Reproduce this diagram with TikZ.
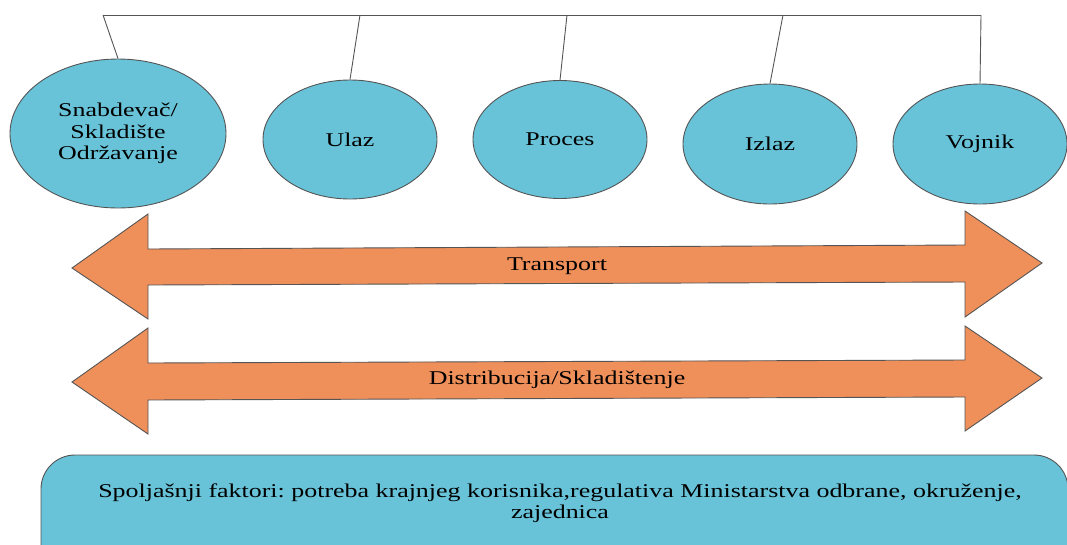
\documentclass[tikz,border=0pt]{standalone}
\usepackage{fontspec}
\setmainfont{Liberation Serif}[FakeStretch=1.33]
\usetikzlibrary{shapes.geometric}
\frenchspacing
\definecolor{ellblue}{HTML}{68C3D9}
\definecolor{arroworange}{HTML}{EF8F5A}
\definecolor{edgegray}{HTML}{555555}
\tikzset{
  oval/.style={ellipse, draw=edgegray, line width=0.9pt, fill=ellblue, inner sep=0pt, align=center,
    font=\fontsize{19.5}{21.5}\selectfont},
  link/.style={draw=edgegray, line width=0.9pt},
  bigarrow/.style={draw=edgegray, line width=0.9pt, fill=arroworange},
  lbl/.style={font=\fontsize{19.5}{21.5}\selectfont, inner sep=0pt}
}
\begin{document}
\begin{tikzpicture}[x=1pt,y=-1pt]
\useasboundingbox (0,0) rectangle (1067,544);
\clip (0,0) rectangle (1067,544);
% ellipses
\node[oval, minimum width=216pt, minimum height=149pt] (s) at (118,133.5) {Snabdeva\v{c}/\\Skladi\v{s}te\\Odr\v{z}avanje};
\node[oval, minimum width=174pt, minimum height=119pt] (u) at (350,139.5) {Ulaz};
\node[oval, minimum width=174pt, minimum height=118pt] (p) at (560,139.5) {Proces};
\node[oval, minimum width=174pt, minimum height=120pt] (i) at (770,144) {Izlaz};
\node[oval, minimum width=174pt, minimum height=120pt] (v) at (980,144) {Vojnik};
% top bar
\coordinate (t1) at (103,15);
\coordinate (t2) at (360,15);
\coordinate (t3) at (567,15);
\coordinate (t4) at (783,15);
\coordinate (t5) at (981,15);
\draw[link] (t1) -- (t5);
\draw[link] (t1) -- (s.north);
\draw[link] (t2) -- (u.north);
\draw[link] (t3) -- (p.north);
\draw[link] (t4) -- (i.north);
\draw[link] (t5) -- (v.north);
% arrows
\draw[bigarrow] (72,268) -- (148,214) -- (148,249) -- (965,245) -- (965,211) -- (1042,263)
  -- (965,317) -- (965,282) -- (148,285) -- (148,319) -- cycle;
\node[lbl] (tr) at (557,266) {Transport};
\draw[bigarrow] (72,382) -- (148,328) -- (148,363) -- (965,360) -- (965,326) -- (1042,378)
  -- (965,431) -- (965,397) -- (148,400) -- (148,434) -- cycle;
\node[lbl] (ds) at (557,380) {Distribucija/Skladi\v{s}tenje};
% bottom box
\draw[draw=edgegray, line width=0.9pt, fill=ellblue, rounded corners=34pt] (41,455) rectangle (1068,580);
\node[lbl, align=center, text width=1000pt] (ext) at (560,503)
  {Spolja\v{s}nji faktori: potreba krajnjeg korisnika,regulativa Ministarstva odbrane, okru\v{z}enje,\\zajednica};
\end{tikzpicture}
\end{document}
